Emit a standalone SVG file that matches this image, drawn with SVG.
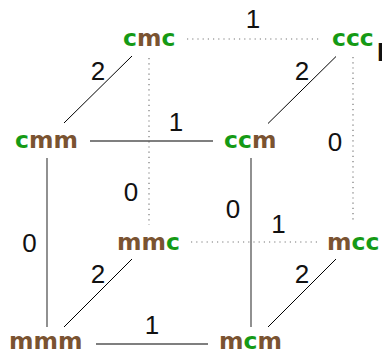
<svg xmlns="http://www.w3.org/2000/svg" width="382" height="352" viewBox="0 0 382 352">
<style>
.n{font-family:"DejaVu Sans","Liberation Sans",sans-serif;font-weight:bold;font-size:23.5px}
.g{fill:#159a15}
.b{fill:#7a5331}
.l{font-family:"Liberation Sans",Arial,sans-serif;font-size:26px;fill:#111;text-anchor:middle}
.s{stroke:#555;stroke-width:1.3;fill:none}
.d{stroke:#000;stroke-width:1;fill:none}
.o{stroke:#777;stroke-width:1.2;stroke-dasharray:1.2 4;fill:none}
</style>
<rect width="382" height="352" fill="#fff"/>
<g id="connectors">
<line class="o" x1="187" y1="39" x2="321" y2="39"/>
<line class="o" x1="149" y1="58" x2="149" y2="225"/>
<line class="o" x1="353" y1="57" x2="353" y2="223"/>
<line class="o" x1="191" y1="242" x2="317" y2="242"/>
<line class="d" x1="132" y1="56" x2="64" y2="123"/>
<line class="d" x1="336" y1="56.5" x2="268" y2="123.5"/>
<line class="d" x1="132" y1="259" x2="64" y2="327"/>
<line class="d" x1="336" y1="259" x2="268" y2="327"/>
<line class="s" x1="90" y1="141" x2="213" y2="141"/>
<line class="s" x1="47" y1="158" x2="47" y2="327"/>
<line class="s" x1="251" y1="158" x2="251" y2="327"/>
<line class="s" x1="96" y1="344" x2="208" y2="344"/>
<text class="l" x="253" y="28">1</text>
<text class="l" x="98" y="80">2</text>
<text class="l" x="302" y="80">2</text>
<text class="l" x="176" y="131">1</text>
<text class="l" x="335" y="151">0</text>
<text class="l" x="131" y="201">0</text>
<text class="l" x="29.5" y="252">0</text>
<text class="l" x="233" y="218">0</text>
<text class="l" x="278.5" y="233">1</text>
<text class="l" x="98" y="283">2</text>
<text class="l" x="302" y="283">2</text>
<text class="l" x="152" y="334">1</text>
</g>
<g id="cmc"><text class="n" x="123" y="46"><tspan class="g">c</tspan><tspan class="b">m</tspan><tspan class="g">c</tspan></text></g>
<g id="ccc"><text class="n" x="332" y="45.5"><tspan class="g">ccc</tspan></text></g>
<g id="cmm"><text class="n" x="15" y="148"><tspan class="g">c</tspan><tspan class="b">mm</tspan></text></g>
<g id="ccm"><text class="n" x="224" y="148"><tspan class="g">cc</tspan><tspan class="b">m</tspan></text></g>
<g id="mmc"><text class="n" x="117" y="250"><tspan class="b">mm</tspan><tspan class="g">c</tspan></text></g>
<g id="mcc"><text class="n" x="327" y="250"><tspan class="b">m</tspan><tspan class="g">cc</tspan></text></g>
<g id="mmm"><text class="n" x="9" y="348.5"><tspan class="b">mmm</tspan></text></g>
<g id="mcm"><text class="n" x="219" y="348.5"><tspan class="b">m</tspan><tspan class="g">c</tspan><tspan class="b">m</tspan></text></g>
<text class="l" x="377" y="61" style="text-anchor:start;font-weight:bold">F</text>
</svg>
